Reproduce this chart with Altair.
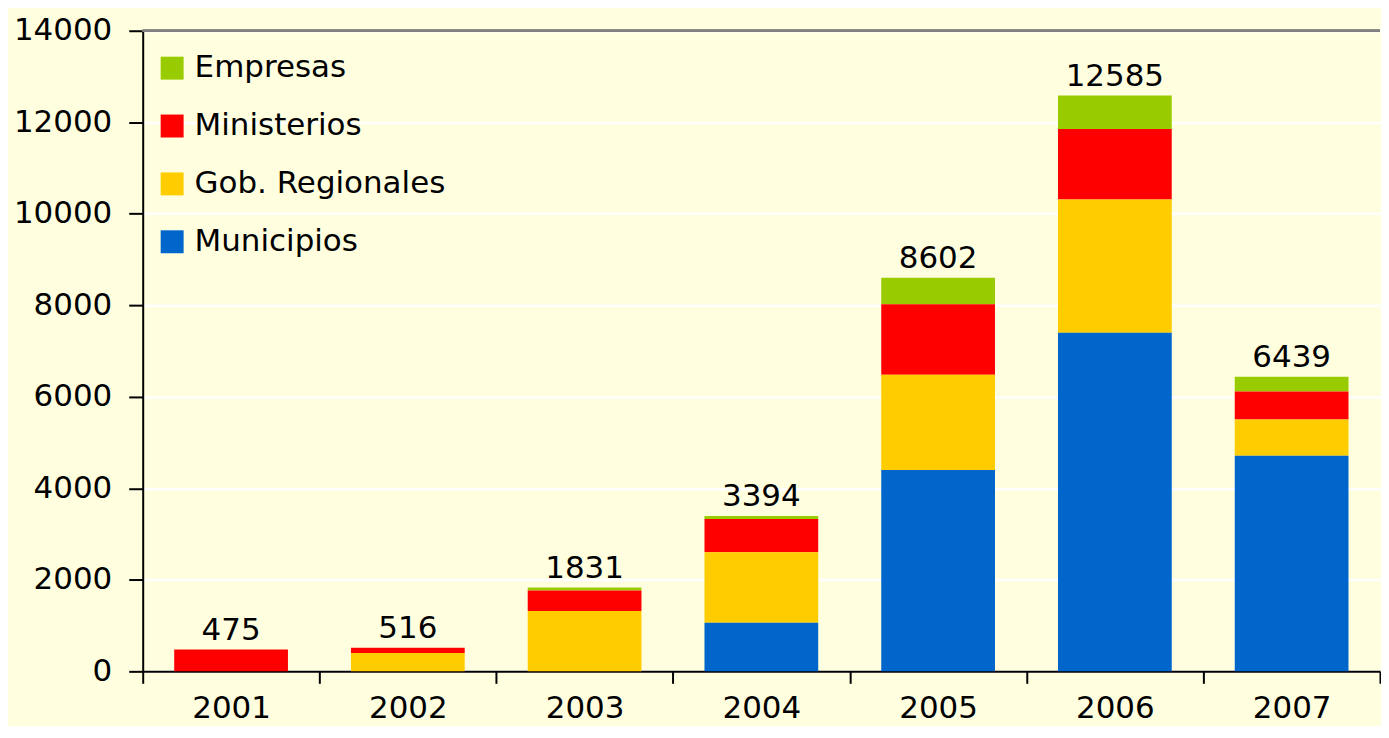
import altair as alt
import pandas as pd

years = ["2001", "2002", "2003", "2004", "2005", "2006", "2007"]
municipios = [0, 0, 0, 1060, 4400, 7400, 4710]
gob_regionales = [0, 400, 1320, 1540, 2080, 2910, 795]
ministerios = [475, 116, 446, 730, 1540, 1540, 610]
empresas = [0, 0, 65, 64, 582, 735, 324]
totals = [475, 516, 1831, 3394, 8602, 12585, 6439]

series_names = ["Empresas", "Ministerios", "Gob. Regionales", "Municipios"]
series_colors = ["#99CC00", "#FF0000", "#FFCC00", "#0066CC"]
stack_rank = {"Municipios": 0, "Gob. Regionales": 1, "Ministerios": 2, "Empresas": 3}
series_values = {
    "Empresas": empresas,
    "Ministerios": ministerios,
    "Gob. Regionales": gob_regionales,
    "Municipios": municipios,
}

rows = []
for name in series_names:
    for yr, v in zip(years, series_values[name]):
        rows.append({"year": yr, "serie": name, "value": v, "rank": stack_rank[name]})
df = pd.DataFrame(rows)
tot_df = pd.DataFrame({"year": years, "total": totals})

FONT = "DejaVu Sans"
FS = 31
BG = "#FFFFE0"

x_enc = alt.X(
    "year:N",
    sort=years,
    scale=alt.Scale(paddingInner=0, paddingOuter=0),
    axis=alt.Axis(
        title=None,
        tickBand="extent",
        labelAngle=0,
        labelFont=FONT,
        labelFontSize=FS,
        labelColor="black",
        labelPadding=10,
        tickSize=12,
        tickWidth=2,
        tickColor="black",
        domainColor="black",
        domainWidth=2,
        grid=False,
    ),
)

y_scale = alt.Scale(domain=[0, 14000], nice=False)

bars = alt.Chart(df).mark_bar(width=114).encode(
    x=x_enc,
    y=alt.Y(
        "value:Q",
        stack="zero",
        scale=y_scale,
        axis=alt.Axis(
            title=None,
            values=[0, 2000, 4000, 6000, 8000, 10000, 12000, 14000],
            format="d",
            labelFont=FONT,
            labelFontSize=FS,
            labelColor="black",
            labelPadding=17,
            tickSize=14,
            tickWidth=2,
            tickColor="black",
            domainColor="black",
            domainWidth=2,
            grid=True,
            gridColor="white",
            gridWidth=2.5,
            gridOpacity=1,
        ),
    ),
    color=alt.Color(
        "serie:N",
        scale=alt.Scale(domain=series_names, range=series_colors),
        legend=alt.Legend(
            title=None,
            orient="none",
            legendX=14,
            legendY=22,
            padding=0,
            symbolType="square",
            symbolSize=529,
            symbolStrokeWidth=0,
            symbolOpacity=1,
            labelFont=FONT,
            labelFontSize=FS,
            labelColor="black",
            labelOffset=7,
            rowPadding=26,
            labelLimit=400,
        ),
    ),
    order=alt.Order("rank:Q", sort="ascending"),
)

labels = alt.Chart(tot_df).mark_text(
    font=FONT, fontSize=FS, color="black", baseline="alphabetic", align="center", dy=-10
).encode(
    x=alt.X("year:N", sort=years),
    y=alt.Y("total:Q", scale=y_scale),
    text=alt.Text("total:Q", format="d"),
)

top_rule = alt.Chart(tot_df).mark_rule(color="#808080", strokeWidth=2).encode(
    y=alt.datum(14000)
)

chart = (
    alt.layer(top_rule, bars, labels)
    .properties(
        width=1240,
        height=642,
        padding={"left": 5, "top": 6, "right": 0, "bottom": 2},
        background=BG,
    )
    .configure_view(fill=BG, strokeWidth=0)
)

chart.save("out.html", embed_options={"renderer": "svg", "actions": False})
